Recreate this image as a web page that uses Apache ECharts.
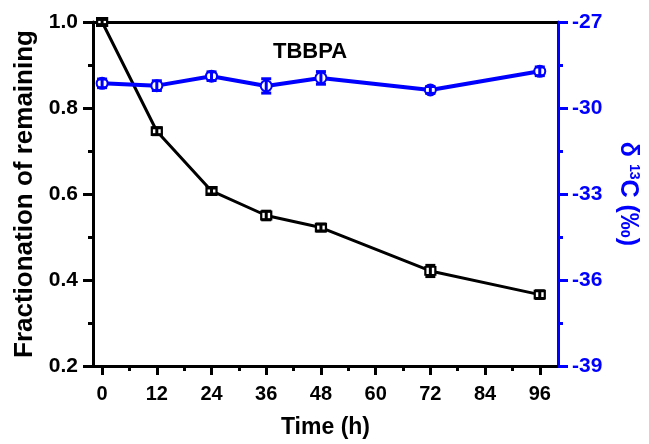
<!DOCTYPE html>
<html><head><meta charset="utf-8">
<script src="https://cdn.jsdelivr.net/npm/echarts@6/dist/echarts.min.js"></script>
<style>html,body{margin:0;padding:0;background:#fff}#c{width:649px;height:444px}</style>
</head><body><div id="c"></div>
<script>
var times = [0, 12, 24, 36, 48, 72, 96];
var remaining = [1.0, 0.746, 0.607, 0.550, 0.522, 0.421, 0.366];
var remainingErr = [0.006, 0.008, 0.007, 0.010, 0.008, 0.013, 0.009];
var delta13C = [-29.14, -29.22, -28.89, -29.23, -28.95, -29.37, -28.72];
var delta13CErr = [0.15, 0.17, 0.15, 0.25, 0.22, 0.12, 0.15];
var xMajor = [0, 12, 24, 36, 48, 60, 72, 84, 96];
var xMinor = [6, 18, 30, 42, 54, 66, 78, 90];

var FONT = '"Liberation Sans", Arial, sans-serif';
var chart = echarts.init(document.getElementById('c'));

function errSeries(vals, errs, color, yIdx, capW, lw) {
  return {
    type: 'custom', xAxisIndex: 0, yAxisIndex: yIdx, z: 4, silent: true,
    data: times.map(function (t, i) { return [t, vals[i] - errs[i], vals[i] + errs[i]]; }),
    renderItem: function (params, api) {
      var lo = api.coord([api.value(0), api.value(1)]);
      var hi = api.coord([api.value(0), api.value(2)]);
      var x = lo[0], h = capW / 2;
      var st = { stroke: color, lineWidth: lw };
      return { type: 'group', children: [
        { type: 'line', shape: { x1: x, y1: lo[1], x2: x, y2: hi[1] }, style: st },
        { type: 'line', shape: { x1: x - h, y1: lo[1], x2: x + h, y2: lo[1] }, style: st },
        { type: 'line', shape: { x1: x - h, y1: hi[1], x2: x + h, y2: hi[1] }, style: st }
      ]};
    }
  };
}

var option = {
  animation: false,
  backgroundColor: '#fff',
  textStyle: { fontFamily: FONT },
  title: { text: 'TBBPA', left: 268, top: 36,
    textStyle: { fontFamily: FONT, fontWeight: 'bold', fontSize: 22, color: '#000' } },
  grid: { left: 93, right: 88, top: 22, bottom: 70 },
  xAxis: [
    { type: 'value', position: 'bottom', min: -2, max: 100,
      name: 'Time (h)', nameLocation: 'middle', nameGap: 50,
      nameTextStyle: { fontFamily: FONT, fontWeight: 'bold', fontSize: 23, color: '#000' },
      axisLine: { show: true, onZero: false, lineStyle: { color: '#000', width: 3 } },
      axisTick: { show: true, inside: false, length: 9, customValues: xMajor, lineStyle: { color: '#000', width: 3 } },
      axisLabel: { show: true, customValues: xMajor, margin: 18, color: '#000', fontWeight: 'bold', fontSize: 20, fontFamily: FONT },
      splitLine: { show: false } },
    { type: 'value', position: 'bottom', min: -2, max: 100,
      axisLine: { show: false, onZero: false },
      axisTick: { show: true, inside: false, length: 5, customValues: xMinor, lineStyle: { color: '#000', width: 3 } },
      axisLabel: { show: false },
      splitLine: { show: false } },
    { type: 'value', position: 'top', min: -2, max: 100,
      axisLine: { show: true, onZero: false, lineStyle: { color: '#000', width: 3 } },
      axisTick: { show: false }, axisLabel: { show: false }, splitLine: { show: false } }
  ],
  yAxis: [
    { type: 'value', position: 'left', min: 0.2, max: 1.0, interval: 0.2,
      name: 'Fractionation of remaining', nameLocation: 'middle', nameGap: 55, nameRotate: 90,
      nameTextStyle: { fontFamily: FONT, fontWeight: 'bold', fontSize: 26, color: '#000' },
      axisLine: { show: true, onZero: false, lineStyle: { color: '#000', width: 3 } },
      axisTick: { show: true, inside: false, length: 10, lineStyle: { color: '#000', width: 3 } },
      minorTick: { show: true, splitNumber: 2, length: 5, lineStyle: { color: '#000', width: 3 } },
      axisLabel: { color: '#000', fontWeight: 'bold', fontSize: 21, fontFamily: FONT, margin: 15,
        formatter: function (v) { return v.toFixed(1); } },
      splitLine: { show: false } },
    { type: 'value', position: 'right', min: -39, max: -27, interval: 3,
      name: '{a|δ }{b|13}{a|C (‰)}', nameLocation: 'middle', nameGap: 57, nameRotate: -90,
      nameTextStyle: { color: '#0000ff', rich: {
        a: { fontFamily: FONT, fontWeight: 'bold', fontSize: 25, color: '#0000ff' },
        b: { fontFamily: FONT, fontWeight: 'bold', fontSize: 14, color: '#0000ff', padding: [0, 0, 12, 0] } } },
      axisLine: { show: true, onZero: false, lineStyle: { color: '#0000ff', width: 3 } },
      axisTick: { show: true, inside: false, length: 10, lineStyle: { color: '#0000ff', width: 3 } },
      minorTick: { show: true, splitNumber: 2, length: 5, lineStyle: { color: '#0000ff', width: 3 } },
      axisLabel: { color: '#0000ff', fontWeight: 'bold', fontSize: 21, fontFamily: FONT, margin: 14 },
      splitLine: { show: false } }
  ],
  series: [
    { type: 'line', xAxisIndex: 0, yAxisIndex: 0, z: 3,
      data: times.map(function (t, i) { return [t, remaining[i]]; }),
      lineStyle: { color: '#000', width: 3 },
      symbol: 'rect', symbolSize: [10, 8], showAllSymbol: true,
      itemStyle: { color: '#fff', borderColor: '#000', borderWidth: 2 } },
    errSeries(remaining, remainingErr, '#000', 0, 10, 3),
    { type: 'line', xAxisIndex: 0, yAxisIndex: 1, z: 3,
      data: times.map(function (t, i) { return [t, delta13C[i]]; }),
      lineStyle: { color: '#0000ff', width: 4 },
      symbol: 'circle', symbolSize: 11, showAllSymbol: true,
      itemStyle: { color: '#fff', borderColor: '#0000ff', borderWidth: 2 } },
    errSeries(delta13C, delta13CErr, '#0000ff', 1, 10, 3)
  ]
};
chart.setOption(option);
</script>
</body></html>
